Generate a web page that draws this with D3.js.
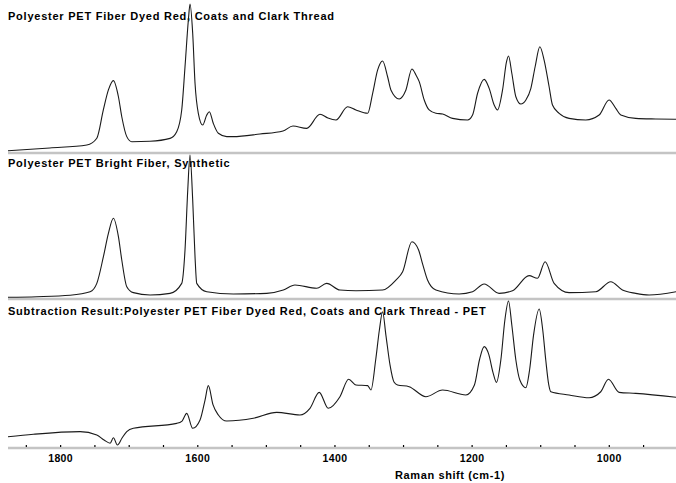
<!DOCTYPE html>
<html>
<head>
<meta charset="utf-8">
<script src="https://cdn.jsdelivr.net/npm/d3@7"></script>
<style>
  html, body { margin: 0; padding: 0; background: #fff; }
  svg { display: block; }
  text { font-family: "Liberation Sans", Arial, sans-serif; font-weight: bold; fill: #000; }
</style>
</head>
<body>
<svg id="chart" width="676" height="483"></svg>
<script>
// ---- data (Raman shift cm-1, relative intensity) ----
const panelTitles = [
  "Polyester PET Fiber Dyed Red, Coats and Clark Thread",
  "Polyester PET Bright Fiber, Synthetic",
  "Subtraction Result:Polyester PET Fiber Dyed Red, Coats and Clark Thread - PET"
];
const dyedSpectrum = [[1876,0.9],[1815,2.8],[1761,4.8],[1746.5,9.5],[1737,29],[1729.6,42.8],[1722.3,49.2],[1715,38.1],[1710.1,24.3],[1702.8,10.6],[1695.5,7.1],[1669,7.4],[1639.7,9.4],[1630,14],[1622.7,29],[1617.9,58.8],[1613,91],[1610.6,102],[1606.7,81.9],[1603.3,47.4],[1598.5,26.7],[1592.1,18.6],[1586.2,25.5],[1582.4,27.8],[1576.7,19.8],[1569.3,12.9],[1557.1,10.6],[1547.9,10.6],[1508.6,12.4],[1475,14.5],[1460.5,17.9],[1440.5,16.3],[1421.1,26],[1409.5,23.4],[1397.8,22.1],[1380.8,31.2],[1368.7,29],[1351.6,26.7],[1344.3,40.5],[1337,56.6],[1329.8,62.8],[1322.5,51.9],[1317.7,42.8],[1305.6,36.6],[1295.8,42.8],[1287.1,57.2],[1281.2,53.1],[1276.4,48.5],[1269.1,35.9],[1261.9,29],[1252.1,26.7],[1242.3,26.2],[1227.8,23.2],[1205.9,22.1],[1198.6,25.5],[1191.3,40.5],[1181.7,50.1],[1174.4,43.9],[1167.1,32.4],[1162.2,29],[1154.9,42.8],[1149.1,62.3],[1146.2,66.2],[1141.4,54.3],[1135.5,38.1],[1128.2,33.1],[1120.9,35.9],[1113.6,43.9],[1107.4,58.8],[1100.5,72.6],[1094.3,63.4],[1087,45],[1082.1,32.4],[1072.4,26.7],[1057.9,23.2],[1033.5,22.1],[1014.1,25.5],[999.6,35.9],[989.8,30.1],[982.5,25.5],[960.7,23.2],[931.5,22.8],[902,22.6]];
const petSpectrum = [[1876,0.5],[1834,0.9],[1785.4,1.9],[1756.3,4.3],[1746.5,10.1],[1736.9,28.5],[1729.6,44.6],[1722.3,55],[1715,42.3],[1710.1,26.2],[1702.8,7.8],[1693.2,3.7],[1668.9,2.1],[1639.7,3.2],[1622.7,10.1],[1617.9,33.1],[1613.9,74.5],[1610.6,98.6],[1606.7,67.6],[1603.3,28.5],[1600.8,10.1],[1586.2,4.3],[1547.4,2.8],[1498.8,3.2],[1474.6,5.5],[1457.6,9],[1425.9,6.7],[1411.4,10.1],[1392,5.5],[1368.7,5],[1329.8,5.5],[1310.4,12.4],[1300.6,18.1],[1287.1,38.8],[1277.3,33.1],[1271.1,22.8],[1264.3,12.4],[1252.1,5.5],[1218.2,2.8],[1198.6,4.3],[1181.7,9.7],[1159.9,3.2],[1140.4,5],[1116.2,15.4],[1104,13.6],[1092.8,25],[1079.7,10.1],[1057.9,3.7],[1018.9,4.3],[997.1,11.2],[980.1,5.5],[960.7,3.2],[941.3,2.1],[902,4.3]];
const subtractionSpectrum = [[1876,7.1],[1838.9,8.8],[1770.9,10.6],[1746.5,8.3],[1735.9,4.8],[1727.1,2.6],[1722.3,6.4],[1716.5,1.4],[1709.7,6.2],[1702.8,10.6],[1693.2,12.9],[1630,16.3],[1622.2,17.9],[1615.4,23.2],[1606.7,12.9],[1596,18.6],[1588.7,32.4],[1583.9,42.3],[1577,29],[1569.3,22.1],[1557.1,17.9],[1518.3,19.8],[1484.2,23.9],[1450.3,22.1],[1435.7,26.7],[1422.2,37.7],[1409.1,26.7],[1392,34.7],[1379.3,46.7],[1368.7,42.8],[1351.6,42.3],[1346.8,39.3],[1339.9,60],[1334.5,80.7],[1329.8,93.3],[1325,77.2],[1319,56.6],[1313.2,44.8],[1308,42.8],[1291.1,41.6],[1266.7,34.7],[1242.3,39.3],[1208.4,35.9],[1195.9,42.8],[1188.6,60],[1181.7,69.2],[1174.9,63.7],[1169,51.7],[1163.7,44.6],[1157.4,60],[1151.5,87.6],[1146.2,100.7],[1141.4,84.1],[1135.5,60],[1129.7,46.2],[1120.9,40.9],[1115.5,53.1],[1109.7,77.2],[1101.5,95.2],[1096.3,80.7],[1091.9,60],[1087.5,42.8],[1084.5,38.1],[1057.9,35.9],[1028.7,34],[1011.7,38.1],[1000.5,46.7],[985,37.7],[960.7,37],[902,34.3]];
const shiftDomain = [1876, 902];
const majorTicks = [1800, 1600, 1400, 1200, 1000];
const minorTicks = d3.range(1850, 900, -50);
const axisTitle = "Raman shift (cm-1)";

// ---- layout ----
const svg = d3.select("#chart");
const left = 8, right = 676;
const panels = [
  { spectrum: dyedSpectrum, bottom: 152, title: panelTitles[0], titleY: 20 },
  { spectrum: petSpectrum, bottom: 298, title: panelTitles[1], titleY: 167 },
  { spectrum: subtractionSpectrum, bottom: 447, title: panelTitles[2], titleY: 315 }
];
const panelHeight = 145;

const x = d3.scaleLinear().domain(shiftDomain).range([left, right]);

panels.forEach(p => {
  const y = d3.scaleLinear().domain([0, 100]).range([p.bottom, p.bottom - panelHeight]);
  svg.append("line")
    .attr("x1", left).attr("x2", right)
    .attr("y1", p.bottom + 1).attr("y2", p.bottom + 1)
    .attr("stroke", "#c4c4c4").attr("stroke-width", 2.5);
  svg.append("text")
    .attr("x", left).attr("y", p.titleY)
    .style("font-size", "11px")
    .style("letter-spacing", "0.76px")
    .text(p.title);
  const line = d3.line()
    .x(d => x(d[0])).y(d => y(d[1]))
    .curve(d3.curveMonotoneX);
  svg.append("path")
    .datum(p.spectrum)
    .attr("d", line)
    .attr("fill", "none")
    .attr("stroke", "#1a1a1a")
    .attr("stroke-width", 1.1)
    .attr("stroke-linejoin", "round");
});

// axis
const axisY = 447;
const tickAxis = d3.axisTop(x).tickValues(minorTicks).tickSize(2).tickFormat("");
const gt = svg.append("g").attr("transform", `translate(0,${axisY})`).call(tickAxis);
gt.select(".domain").remove();
gt.selectAll(".tick line").attr("stroke", "#000").attr("stroke-width", 1.2);

const labelAxis = d3.axisBottom(x).tickValues(majorTicks).tickSize(0).tickPadding(6).tickFormat(d3.format("d"));
const gl = svg.append("g").attr("transform", `translate(0,${axisY + 2})`).call(labelAxis);
gl.select(".domain").remove();
gl.selectAll(".tick text")
  .style("font-family", "'Liberation Sans', Arial, sans-serif")
  .style("font-weight", "bold")
  .style("font-size", "10.5px")
  .style("letter-spacing", "0.4px")
  .attr("fill", "#000");

svg.append("text")
  .attr("x", 450).attr("y", 479)
  .attr("text-anchor", "middle")
  .style("font-size", "11px")
  .style("letter-spacing", "0.6px")
  .text(axisTitle);
</script>
</body>
</html>
